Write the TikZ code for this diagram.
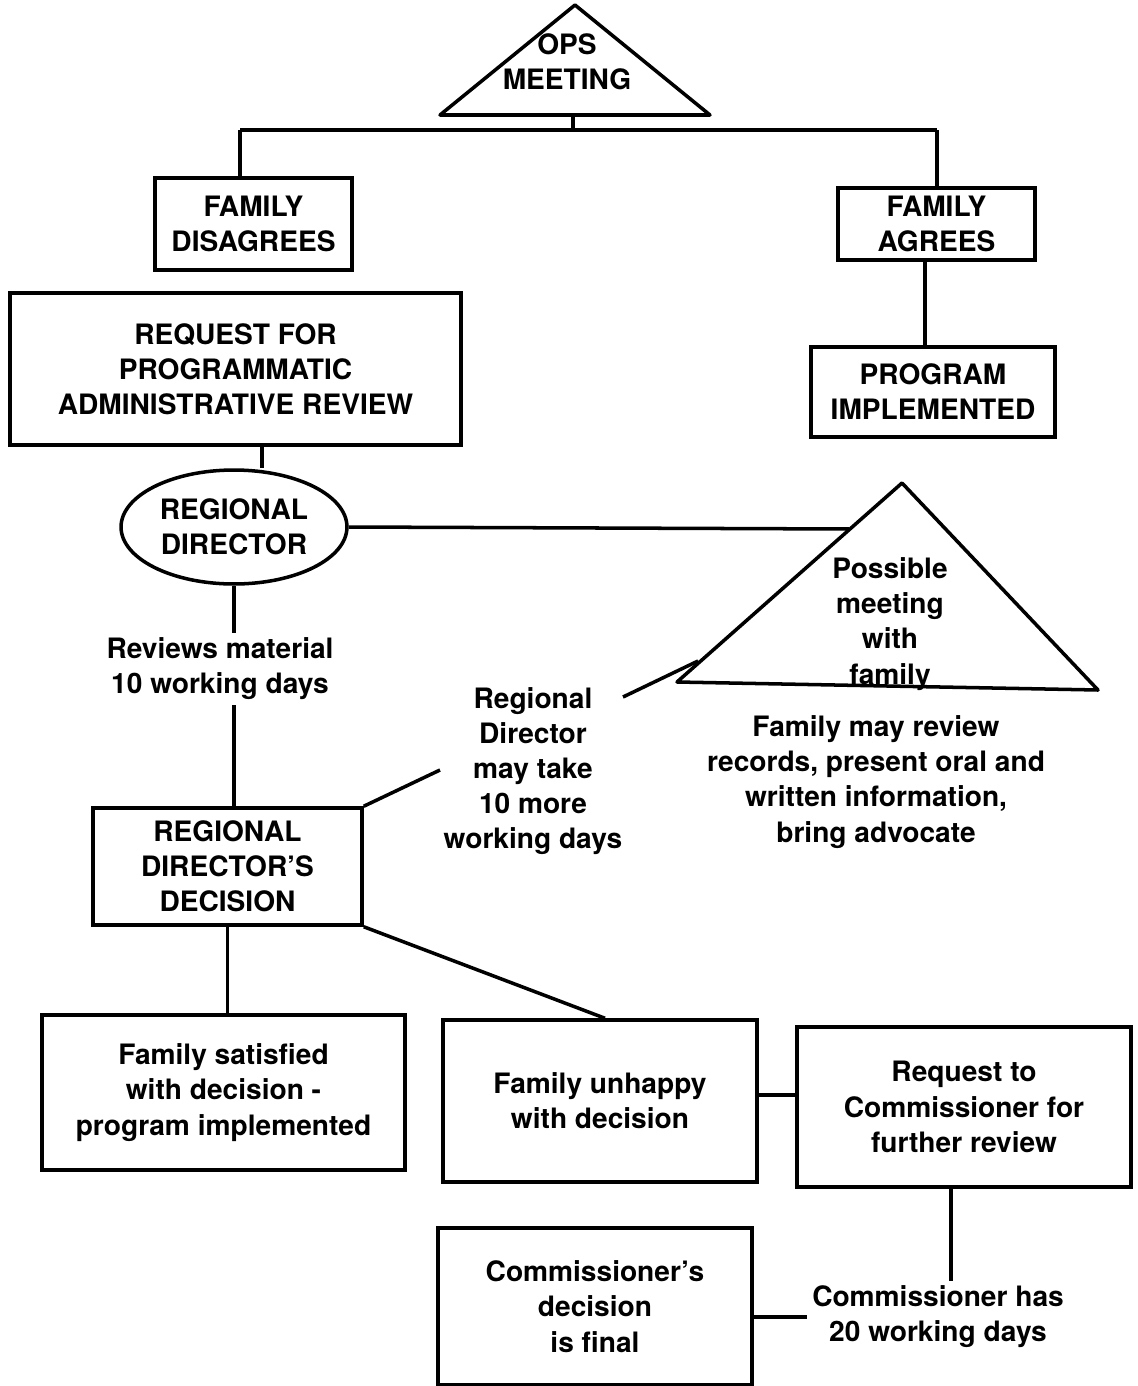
\documentclass[tikz,border=0pt]{standalone}
\usepackage{fontspec}
\setmainfont{TeX Gyre Heros}
\usetikzlibrary{shapes.geometric}

\begin{document}
\begin{tikzpicture}[x=0.02cm, y=-0.02cm, line width=2pt,
  every node/.style={font=\bfseries\fontsize{16}{20}\selectfont, align=center},
  box/.style={draw, rectangle, inner sep=2pt},
  oval/.style={draw, ellipse, inner sep=0pt},
  lbl/.style={inner sep=2pt}]
\useasboundingbox (0,0) rectangle (1137,1386);
% OPS meeting
\coordinate (ops-t) at (575,5);
\coordinate (ops-l) at (440,115);
\coordinate (ops-r) at (710,115);
\draw[line join=round] (ops-t) -- (ops-l) -- (ops-r) -- cycle;
\node[lbl] (ops) at (567,62) {OPS\\MEETING};
\coordinate (ops-b) at (573,115);
\coordinate (bus-l) at (240,130);
\coordinate (bus-r) at (937,130);
% family disagrees / agrees
\node[box, minimum width=3.94cm, minimum height=1.84cm] (dis) at (253.5,224) {FAMILY\\DISAGREES};
\node[box, minimum width=3.94cm, minimum height=1.44cm] (agr) at (936.5,224) {FAMILY\\AGREES};
\node[box, minimum width=9.02cm, minimum height=3.04cm] (req) at (235.5,369) {REQUEST FOR\\PROGRAMMATIC\\ADMINISTRATIVE REVIEW};
\node[box, minimum width=4.88cm, minimum height=1.8cm] (prog) at (933,392) {PROGRAM\\IMPLEMENTED};
\draw (ops-b) -- (ops-b |- bus-l);
\draw (bus-l) -- (bus-r);
\draw (bus-l) -- (bus-l |- dis.north);
\draw (bus-r) -- (bus-r |- agr.north);
\draw ([xshift=-0.23cm]agr.south) -- ([xshift=-0.23cm]agr.south |- prog.north);
% regional director
\node[oval, minimum width=4.52cm, minimum height=2.28cm] (rd) at (234,527) {REGIONAL\\DIRECTOR};
\draw ([xshift=0.53cm]req.south) -- ([xshift=0.53cm]req.south |- rd.north);
% possible meeting
\coordinate (pm-t) at (902,483);
\coordinate (pm-l) at (677,682);
\coordinate (pm-r) at (1098,690);
\draw[line join=round] (pm-t) -- (pm-l) -- (pm-r) -- cycle;
\node[lbl] (pm) at (890,624) {Possible\\meeting\\with\\family};
\coordinate (pm-a) at (849,529);
\coordinate (pm-b) at (698,661);
\draw (rd.east) -- (pm-a);
\node[lbl] (fam) at (876,782) {Family may review\\records, present oral and\\written information,\\bring advocate};
% reviews and decision
\node[lbl] (rev) at (220,669) {Reviews material\\10 working days};
\node[lbl] (take) at (533,771) {Regional\\Director\\may take\\10 more\\working days};
\node[box, minimum width=5.38cm, minimum height=2.34cm] (dec) at (227.5,866.5) {REGIONAL\\DIRECTOR'S\\DECISION};
\coordinate (take-a) at (623,697);
\coordinate (take-b) at (440,770);
\draw (rd.south) -- (rd.south |- rev.north);
\draw (rd.south |- rev.south) -- (rd.south |- dec.north);
\draw (take-a) -- (pm-b);
\draw (dec.north east) -- (take-b);
% outcomes
\node[box, minimum width=7.26cm, minimum height=3.1cm] (sat) at (223.5,1092.5) {Family satisfied\\with decision -\\program implemented};
\node[box, minimum width=6.28cm, minimum height=3.24cm] (unh) at (600,1101) {Family unhappy\\with decision};
\node[box, minimum width=6.68cm, minimum height=3.2cm] (creq) at (964,1107) {Request to\\Commissioner for\\further review};
\draw (dec.south) -- (dec.south |- sat.north);
\draw (dec.south east) -- ([xshift=0.1cm]unh.north);
\draw ([yshift=0.12cm]unh.east) -- ([yshift=0.12cm]unh.east -| creq.west);
% commissioner
\node[lbl] (chas) at (938,1317) {Commissioner has\\20 working days};
\node[box, minimum width=6.28cm, minimum height=3.14cm] (fin) at (595,1306.5) {Commissioner's\\decision\\is final};
\draw ([xshift=-0.26cm]creq.south) -- ([xshift=-0.26cm]creq.south |- chas.north);
\draw (chas.west) -- (chas.west -| fin.east);
\end{tikzpicture}
\end{document}
